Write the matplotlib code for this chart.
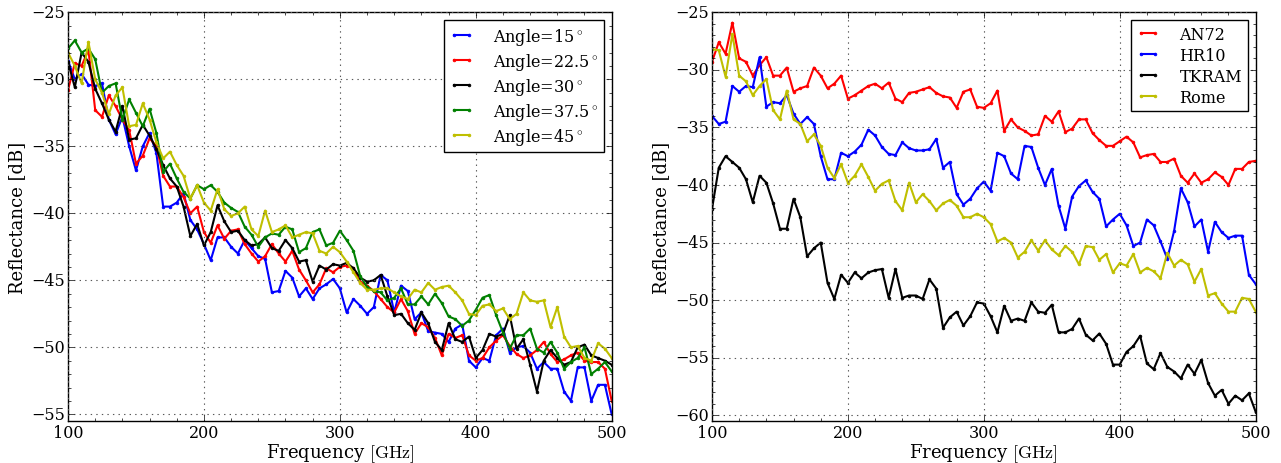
import numpy as np
import matplotlib.pyplot as plt
from matplotlib.ticker import MultipleLocator

plt.style.use('classic')
plt.rcParams['font.family'] = 'serif'
plt.rcParams['font.serif'] = ['DejaVu Serif']
plt.rcParams['mathtext.fontset'] = 'cm'

# frequency grid (GHz), values every 5 GHz
freq = np.arange(100, 501, 5)

# left panel: reflectance vs incidence angle
angle15 = [-28.6, -30.0, -29.6, -30.4, -30.5, -30.3, -33.0, -34.1, -32.8, -35.0,
           -36.8, -35.0, -34.0, -35.5, -39.5, -39.5, -39.2, -38.5, -40.5, -41.2,
           -42.3, -43.5, -41.8, -41.8, -42.5, -43.0, -42.0, -42.6, -43.2, -43.4,
           -45.9, -45.8, -44.3, -44.8, -46.2, -45.6, -46.4, -45.6, -45.3, -44.9,
           -45.6, -47.4, -46.4, -46.9, -47.5, -47.0, -44.6, -45.0, -47.4, -45.4,
           -45.8, -47.9, -47.4, -48.8, -48.9, -49.0, -49.6, -48.6, -48.3, -51.0,
           -51.5, -50.8, -51.0, -49.1, -48.6, -50.4, -50.0, -49.9, -50.4, -51.6,
           -51.1, -51.6, -51.6, -53.3, -54.0, -51.5, -51.5, -54.0, -52.8, -52.8,
           -55.0]
angle22 = [-30.8, -28.8, -29.0, -27.8, -32.3, -32.8, -31.2, -32.0, -33.0, -33.8,
           -36.3, -35.7, -34.4, -35.0, -37.2, -38.0, -38.0, -38.8, -40.0, -39.5,
           -41.4, -42.2, -40.9, -41.9, -41.3, -41.2, -42.3, -43.0, -43.6, -43.2,
           -42.3, -43.0, -43.6, -42.8, -44.2, -45.0, -45.9, -45.3, -44.1, -44.4,
           -44.0, -43.9, -44.1, -45.1, -45.4, -45.8, -46.4, -47.0, -47.4, -46.4,
           -47.3, -49.0, -48.2, -48.5, -49.3, -50.6, -49.0, -49.3, -49.1, -50.6,
           -51.0, -50.8, -50.0, -49.5, -49.1, -49.9, -50.5, -50.8, -50.6, -50.2,
           -49.6, -50.5, -51.1, -50.9, -50.6, -50.4, -51.0, -51.1, -51.1, -51.6,
           -54.0]
angle30 = [-28.7, -30.6, -28.0, -28.7, -30.7, -31.8, -33.0, -33.9, -32.0, -34.5,
           -34.4, -33.4, -34.2, -35.2, -36.4, -37.4, -38.0, -39.5, -41.7, -40.8,
           -42.4, -41.4, -39.4, -40.6, -41.4, -41.3, -42.0, -42.4, -42.3, -41.8,
           -42.6, -42.8, -42.0, -42.6, -43.6, -43.5, -45.1, -43.9, -44.2, -43.8,
           -43.9, -43.7, -44.1, -44.8, -45.1, -45.0, -44.6, -46.2, -47.6, -47.5,
           -48.2, -48.7, -47.4, -48.2, -49.6, -50.2, -48.2, -49.4, -49.6, -49.2,
           -50.8, -50.2, -49.0, -49.2, -49.0, -47.6, -50.1, -49.4, -51.3, -53.3,
           -51.0, -50.2, -50.8, -51.3, -51.1, -50.0, -49.8, -50.6, -50.8, -51.0,
           -51.3]
angle37 = [-27.7, -27.1, -28.0, -27.7, -28.5, -31.0, -30.5, -30.3, -33.0, -31.5,
           -32.5, -33.5, -32.2, -34.0, -36.9, -36.3, -37.4, -38.4, -38.9, -37.9,
           -38.2, -37.9, -38.4, -39.2, -39.6, -39.9, -41.0, -41.6, -42.5, -41.8,
           -41.5, -41.6, -41.0, -41.2, -42.9, -42.6, -41.4, -41.2, -42.4, -42.2,
           -41.3, -42.0, -42.8, -44.7, -45.5, -45.8, -45.9, -46.5, -46.3, -45.6,
           -46.8, -46.8, -46.2, -46.8, -46.0, -46.7, -47.7, -47.9, -48.4, -48.0,
           -47.2, -46.3, -46.1, -47.6, -48.9, -50.1, -49.1, -49.1, -48.6, -50.1,
           -50.4, -49.6, -50.4, -51.6, -51.1, -50.8, -50.0, -52.0, -51.6, -51.1,
           -51.8]
angle45 = [-28.0, -29.0, -30.3, -27.2, -30.0, -31.0, -32.6, -31.2, -30.6, -33.5,
           -33.4, -31.8, -33.0, -34.7, -35.9, -35.4, -36.4, -37.2, -38.9, -37.9,
           -39.2, -39.8, -38.2, -39.7, -40.2, -40.0, -39.5, -41.2, -41.7, -39.8,
           -41.4, -41.2, -40.9, -41.8, -41.6, -41.4, -41.5, -42.8, -43.0, -42.5,
           -42.9, -43.6, -44.4, -45.2, -45.7, -45.7, -45.6, -45.6, -45.9, -46.2,
           -46.4, -45.7, -45.9, -45.2, -45.7, -45.5, -45.4, -45.9, -46.5, -47.5,
           -47.6, -46.9, -46.8, -47.3, -47.1, -47.9, -47.5, -45.9, -46.5, -46.6,
           -46.5, -48.5, -47.0, -49.2, -50.0, -49.9, -50.8, -51.0, -49.7, -50.1,
           -50.8]

# right panel: reflectance of different absorbers
an72 = [-29.3, -27.6, -28.6, -25.9, -29.0, -29.3, -30.5, -29.6, -28.9, -30.5,
        -30.5, -29.8, -31.9, -31.6, -31.4, -29.8, -30.5, -31.6, -31.2, -30.5,
        -32.5, -32.2, -31.8, -31.4, -31.2, -31.6, -31.1, -32.5, -32.8, -32.0,
        -31.9, -31.7, -31.5, -32.0, -32.3, -32.4, -33.3, -31.9, -31.7, -33.2,
        -33.3, -32.9, -31.8, -35.3, -34.3, -35.0, -35.3, -35.7, -35.6, -34.0,
        -34.5, -33.6, -35.4, -35.1, -34.3, -34.3, -35.5, -36.1, -36.6, -36.6,
        -36.2, -35.8, -36.3, -37.6, -37.4, -37.3, -38.0, -38.0, -37.7, -39.2,
        -39.8, -39.0, -39.8, -39.5, -38.9, -39.3, -40.0, -38.6, -38.6, -38.0,
        -37.9]
hr10 = [-34.0, -34.7, -34.5, -31.4, -31.9, -31.4, -31.5, -28.9, -33.2, -32.8,
        -32.9, -32.2, -33.8, -34.7, -34.1, -34.7, -37.5, -39.5, -39.5, -37.2,
        -37.5, -37.1, -36.5, -35.2, -35.7, -36.7, -37.3, -37.4, -36.3, -36.8,
        -37.0, -37.0, -36.9, -36.0, -38.5, -38.0, -40.8, -41.7, -41.2, -40.3,
        -39.7, -40.5, -37.2, -37.5, -39.0, -39.5, -36.6, -36.7, -38.5, -40.0,
        -38.6, -41.8, -43.8, -41.0, -40.1, -39.6, -40.6, -41.2, -43.6, -43.0,
        -42.5, -43.5, -45.3, -45.0, -43.0, -43.5, -44.9, -46.4, -44.0, -40.3,
        -41.5, -43.6, -43.0, -45.8, -43.2, -44.1, -44.6, -44.4, -44.4, -47.8,
        -48.6]
tkram = [-42.1, -38.5, -37.5, -38.0, -38.5, -39.5, -41.5, -39.2, -39.8, -41.6,
         -43.8, -43.8, -41.2, -42.8, -46.2, -45.5, -45.0, -48.5, -49.9, -47.8,
         -48.5, -47.6, -48.1, -47.6, -47.4, -47.3, -49.8, -47.3, -49.8, -49.6,
         -49.6, -49.9, -48.2, -49.0, -52.4, -51.5, -51.0, -52.2, -51.4, -50.2,
         -50.3, -51.4, -52.8, -50.5, -51.8, -51.6, -51.8, -50.2, -51.0, -51.1,
         -50.4, -52.8, -52.8, -52.5, -51.6, -53.0, -53.5, -52.9, -53.8, -55.6,
         -55.6, -54.5, -54.0, -53.1, -55.5, -56.0, -54.6, -55.8, -56.2, -56.8,
         -55.6, -56.4, -55.2, -57.2, -58.3, -57.8, -59.0, -58.3, -58.7, -58.1,
         -59.7]
rome = [-28.2, -28.3, -30.6, -26.9, -30.5, -31.0, -32.2, -31.4, -30.8, -33.5,
        -34.3, -31.8, -34.3, -34.7, -36.2, -35.6, -36.6, -38.5, -39.4, -38.2,
        -39.8, -39.2, -38.2, -39.3, -40.5, -39.9, -39.6, -41.4, -42.2, -39.8,
        -41.5, -40.8, -41.4, -42.2, -41.6, -41.3, -41.8, -42.8, -42.8, -42.5,
        -42.8, -43.4, -44.9, -44.6, -45.0, -46.3, -45.8, -44.8, -45.7, -44.8,
        -45.6, -46.1, -45.3, -45.8, -46.9, -45.3, -45.4, -46.5, -46.0, -47.6,
        -46.8, -47.0, -46.0, -47.6, -47.2, -47.5, -48.1, -45.9, -47.0, -46.5,
        -46.9, -48.4, -47.3, -49.6, -49.4, -50.3, -51.0, -51.0, -49.8, -49.9,
        -51.0]

left_series = [(angle15, 'b', r'Angle=15$^\circ$'),
               (angle22, 'r', r'Angle=22.5$^\circ$'),
               (angle30, 'k', r'Angle=30$^\circ$'),
               (angle37, 'g', r'Angle=37.5$^\circ$'),
               (angle45, 'y', r'Angle=45$^\circ$')]
right_series = [(an72, 'r', 'AN72'),
                (hr10, 'b', 'HR10'),
                (tkram, 'k', 'TKRAM'),
                (rome, 'y', 'Rome')]

fig = plt.figure(figsize=(12.81, 4.64), dpi=100, facecolor='white')
ax1 = fig.add_axes([0.0531, 0.0905, 0.4244, 0.8808])
ax2 = fig.add_axes([0.5558, 0.0905, 0.4244, 0.8808])

for ax, series, ylim in [(ax1, left_series, (-55.5, -25)),
                         (ax2, right_series, (-60.5, -25))]:
    for vals, c, lab in series:
        ax.plot(freq, vals, '.-', color=c, mec=c, lw=1.5, ms=4, label=lab)
    ax.set_xlim(100, 500)
    ax.set_ylim(*ylim)
    ax.xaxis.set_major_locator(MultipleLocator(100))
    ax.xaxis.set_minor_locator(MultipleLocator(20))
    ax.yaxis.set_major_locator(MultipleLocator(5))
    ax.yaxis.set_minor_locator(MultipleLocator(1))
    ax.tick_params(which='both', labelsize=11.5, pad=2)
    ax.grid(True, which='major', color='0.35', linestyle=':', linewidth=0.8)
    ax.set_xlabel(r'Frequency $\mathrm{[GHz]}$', fontsize=13, labelpad=0)
    ax.set_ylabel('Reflectance [dB]', fontsize=13, labelpad=4)
    ax.legend(loc='upper right', fontsize=11.5, labelspacing=0.25,
              borderpad=0.35, handlelength=1.5, handletextpad=1.2, numpoints=2)

fig.savefig('out.png', dpi=100, facecolor='white')
